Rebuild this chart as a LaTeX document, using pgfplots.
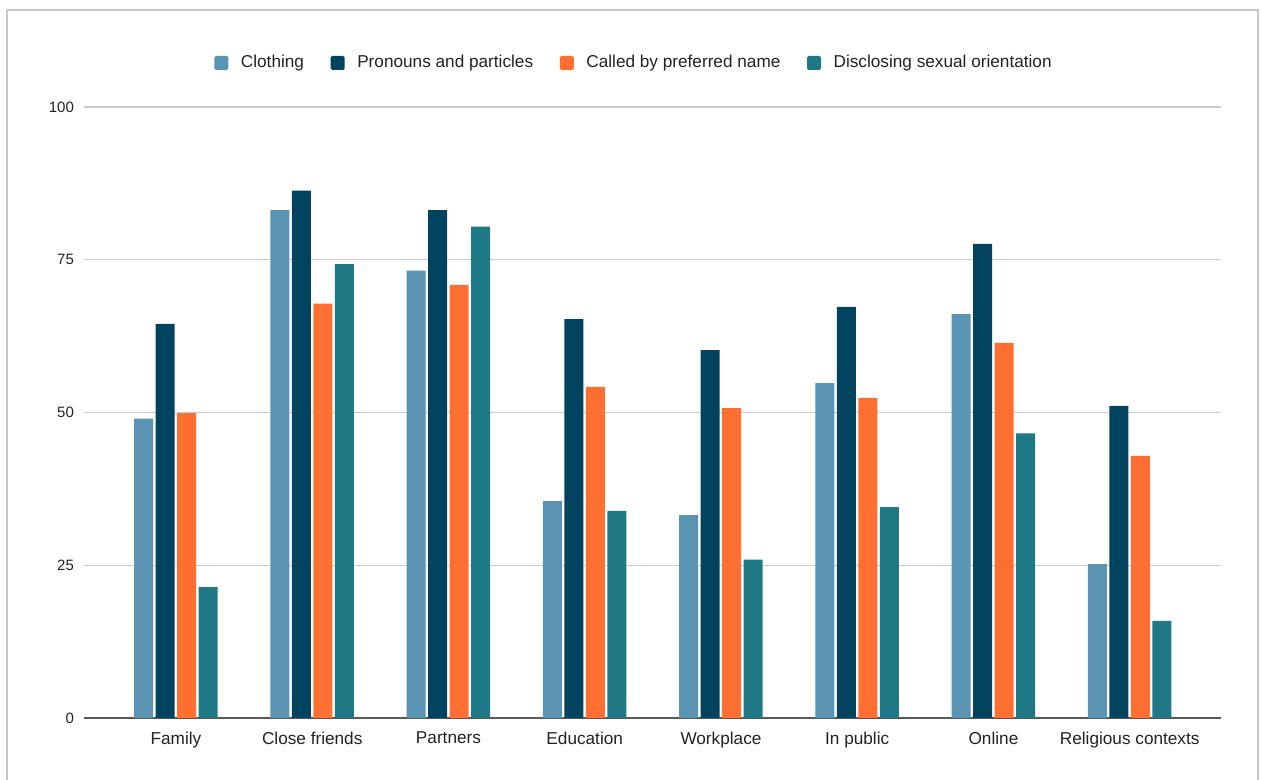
\documentclass[border=0pt]{standalone}
\usepackage{fontspec}
\setmainfont{Liberation Sans}
\usepackage{pgfplots}
\pgfplotsset{compat=1.18}
\definecolor{cA}{HTML}{5B93B3}
\definecolor{cB}{HTML}{02445F}
\definecolor{cC}{HTML}{FF6F32}
\definecolor{cD}{HTML}{1F7885}
\definecolor{txt}{HTML}{222222}
\begin{document}
\begin{tikzpicture}
\useasboundingbox (-42pt,-31pt) rectangle (588.5pt,359pt);
\draw[color=black!22, line width=1pt] (-38.5pt,-40pt) -- (-38.5pt,354pt) -- (587pt,354pt) -- (587pt,-40pt);
\begin{axis}[
  at={(0pt,0pt)}, anchor=south west,
  scale only axis, width=568.5pt, height=305.5pt,
  xmin=-0.675, xmax=7.67, ymin=0, ymax=100,
  ybar, bar width=9.5pt,
  ytick={0,25,50,75,100},
  xtick={0,...,7},
  xticklabels={Family,Close friends,Partners,Education,Workplace,In public,Online,Religious contexts},
  ymajorgrids, grid style={color=black!20, line width=0.6pt},
  separate axis lines,
  axis x line*=bottom, axis y line*=left,
  x axis line style={draw=black!65, line width=0.9pt, -},
  y axis line style={draw=none},
  major tick length=0pt, tick style={draw=none},
  yticklabel style={font=\fontsize{7.5}{9}\selectfont, text=txt, xshift=-1.5pt},
  xticklabel style={font=\fontsize{8.6}{10}\selectfont, text=txt, yshift=-3.5pt},
  /pgf/number format/assume math mode=true,
  legend columns=4,
  legend style={at={(0.4846,1.072)}, anchor=center, draw=none, fill=none,
    font=\fontsize{8.6}{10}\selectfont, text=txt,
    /tikz/every odd column/.append style={column sep=4.3pt},
    /tikz/every even column/.append style={column sep=11.3pt}},
  legend image code/.code={\fill[#1, rounded corners=0.8pt] (0pt,-3.5pt) rectangle (7pt,3.5pt);},
]
\addplot[fill=cA, draw=none, bar shift=-16.125pt] coordinates {(0,49.0) (1,83.1) (2,73.2) (3,35.5) (4,33.2) (5,54.8) (6,66.1) (7,25.2)};
\addlegendentry{Clothing}
\addplot[fill=cB, draw=none, bar shift=-5.375pt] coordinates {(0,64.5) (1,86.3) (2,83.1) (3,65.3) (4,60.2) (5,67.3) (6,77.6) (7,51.1)};
\addlegendentry{Pronouns and particles}
\addplot[fill=cC, draw=none, bar shift=5.375pt] coordinates {(0,49.9) (1,67.8) (2,70.9) (3,54.2) (4,50.7) (5,52.4) (6,61.4) (7,42.9)};
\addlegendentry{Called by preferred name}
\addplot[fill=cD, draw=none, bar shift=16.125pt] coordinates {(0,21.4) (1,74.3) (2,80.4) (3,33.9) (4,25.9) (5,34.5) (6,46.6) (7,15.9)};
\addlegendentry{Disclosing sexual orientation}
\end{axis}
\end{tikzpicture}
\end{document}
